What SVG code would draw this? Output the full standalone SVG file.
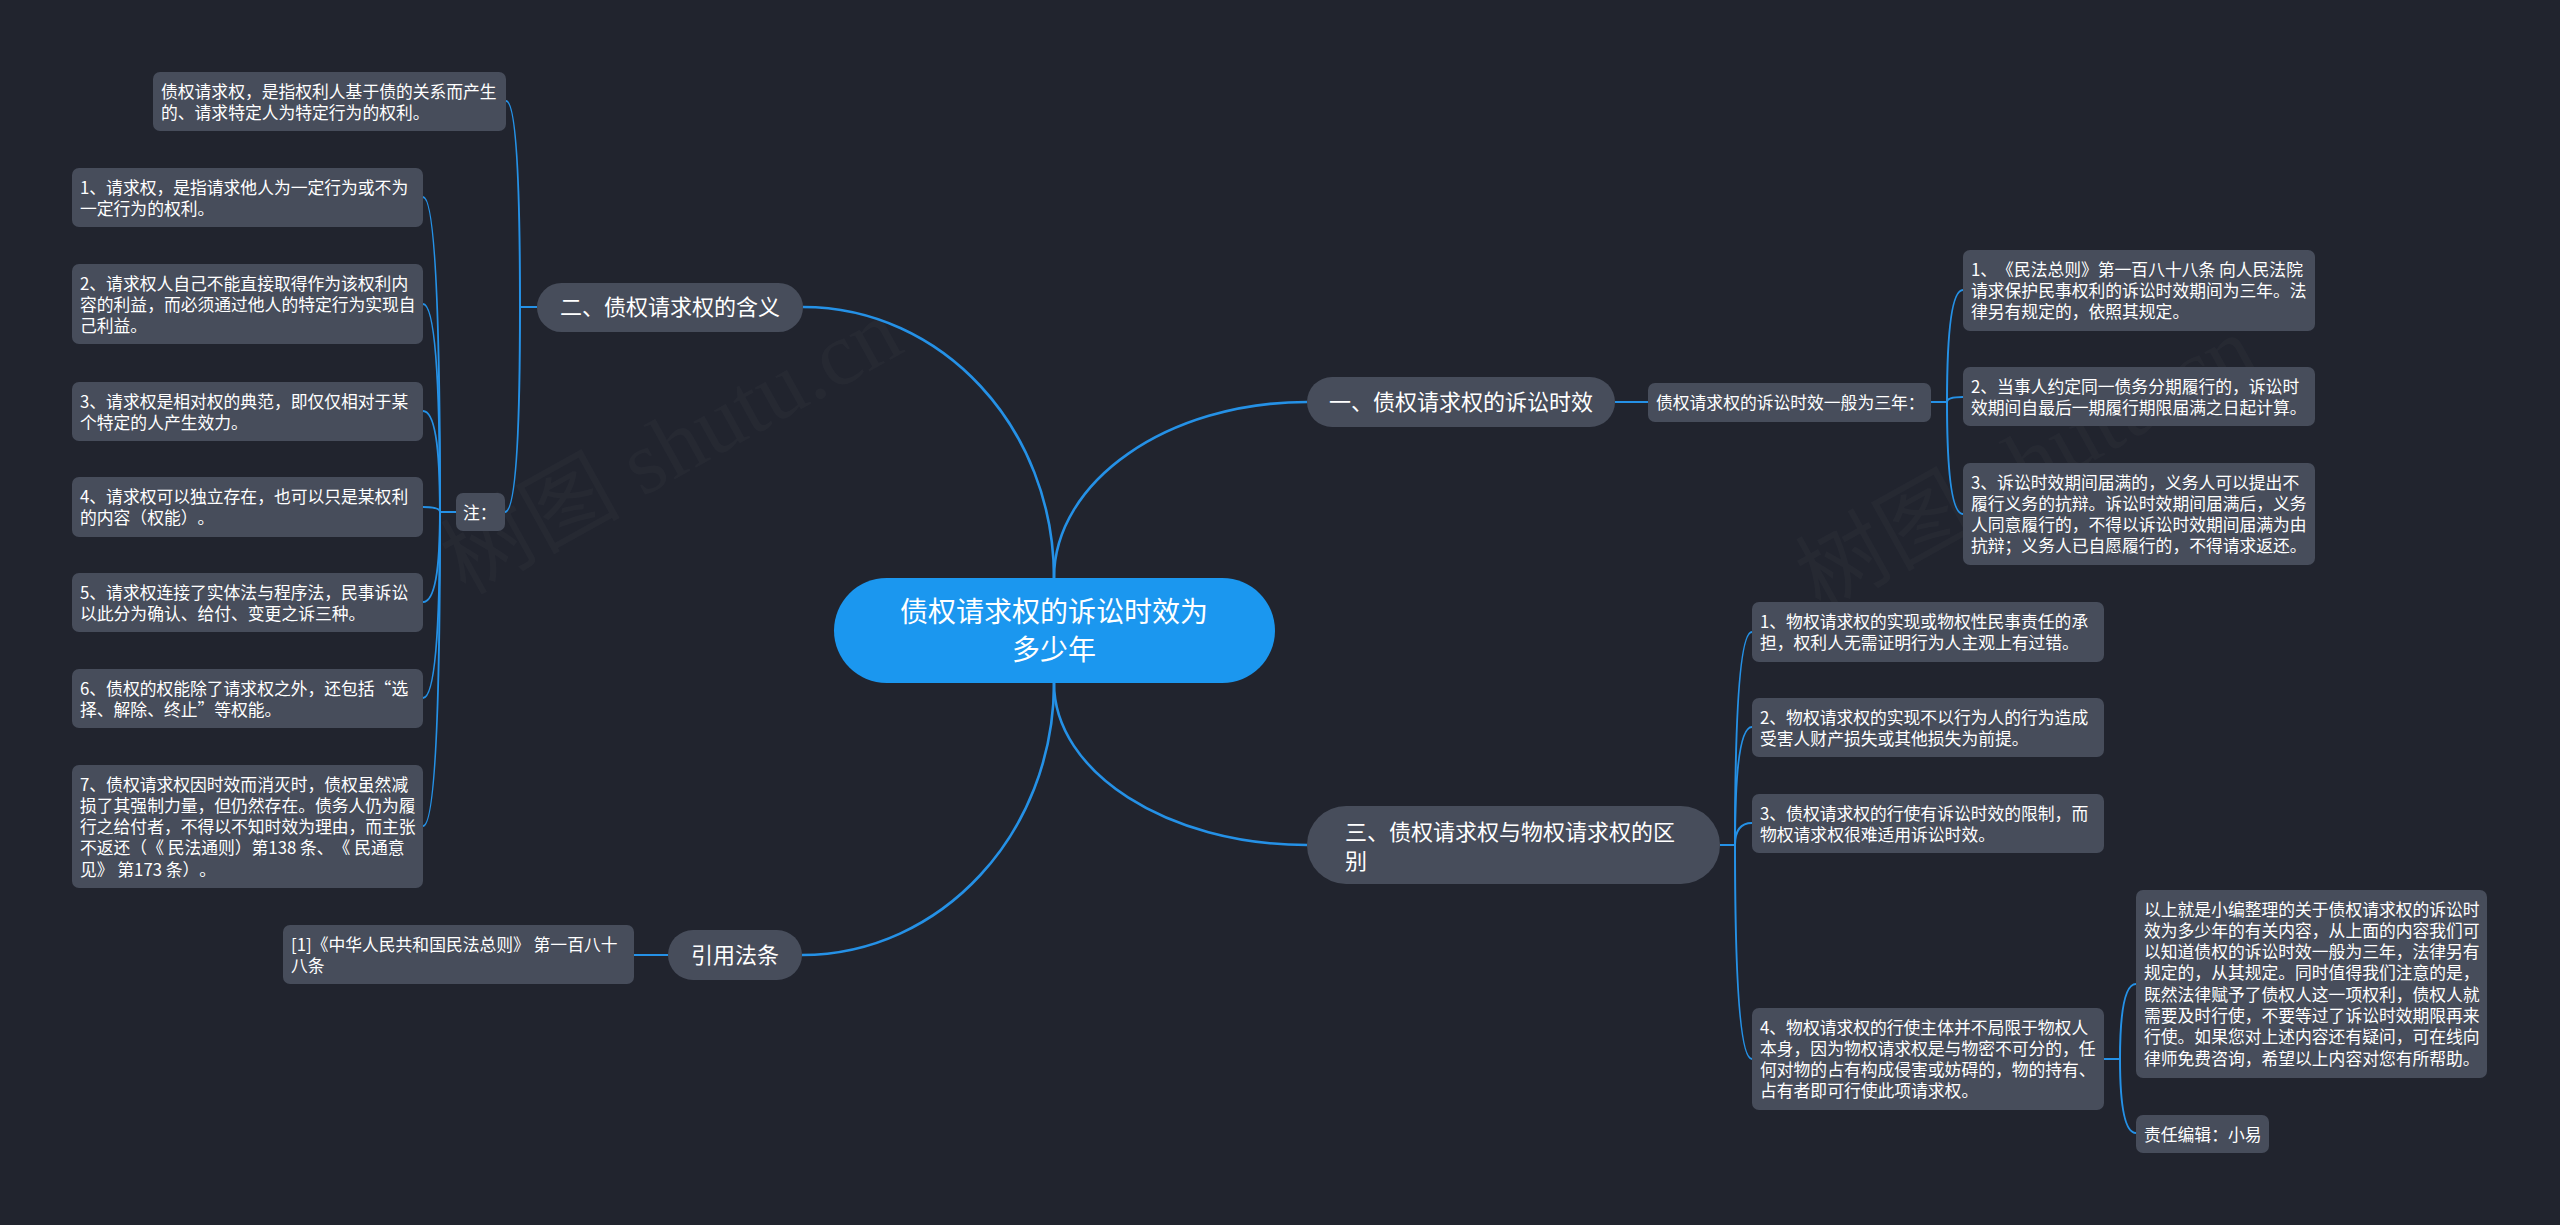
<svg xmlns="http://www.w3.org/2000/svg" width="2560" height="1225" viewBox="0 0 2560 1225">
<style>
.bg{fill:#21242e}
.wm{font-family:"Liberation Serif","Noto Sans CJK SC",serif;font-size:90px;fill:#ffffff;fill-opacity:0.025}
.n{fill:#474d5b}
.c{fill:#1b97ef}
text{text-spacing-trim:space-all;font-feature-settings:"chws" 0,"halt" 0}
.t{font-family:"Noto Sans CJK SC","Noto Sans",sans-serif;font-size:16.8px;fill:#ffffff}
.tm{font-family:"Noto Sans CJK SC","Noto Sans",sans-serif;font-size:22px;fill:#ffffff}
.tc{font-family:"Noto Sans CJK SC","Noto Sans",sans-serif;font-size:28px;fill:#ffffff}
.l{fill:none;stroke:#2591e6;stroke-width:2}
.lm{fill:none;stroke:#2591e6;stroke-width:2.6}
</style>
<rect class="bg" x="0" y="0" width="2560" height="1225"/>
<text class="wm" transform="translate(686 473) rotate(-29)" text-anchor="middle">树图 shutu.cn</text>
<text class="wm" transform="translate(2041 490) rotate(-29)" text-anchor="middle">树图 shutu.cn</text>
<g id="connectors">
<path class="lm" d="M1054 578 C1054 428 942 307 803 307"/>
<path class="lm" d="M1054 578 C1054 481 1168 402 1307 402"/>
<path class="lm" d="M1054 683 C1054 772 1167 845 1307 845"/>
<path class="lm" d="M1054 683 C1054 833 941 955 802 955"/>
<path class="l" d="M537 307 H520 Q520 101 506 101"/>
<path class="l" d="M537 307 H520 Q520 512 505 512"/>
<path class="l" d="M456 512 H440 Q440 197 423 197"/>
<path class="l" d="M456 512 H440 Q440 304 423 304"/>
<path class="l" d="M456 512 H440 Q440 411 423 411"/>
<path class="l" d="M456 512 H440 Q440 507 423 507"/>
<path class="l" d="M456 512 H440 Q440 602 423 602"/>
<path class="l" d="M456 512 H440 Q440 698 423 698"/>
<path class="l" d="M456 512 H440 Q440 826 423 826"/>
<path class="l" d="M668 955 H634"/>
<path class="l" d="M1615 402 H1648"/>
<path class="l" d="M1931 402 H1947 Q1947 290 1963 290"/>
<path class="l" d="M1931 402 H1947 Q1947 397 1963 397"/>
<path class="l" d="M1931 402 H1947 Q1947 514 1963 514"/>
<path class="l" d="M1720 845 H1735 Q1735 632 1752 632"/>
<path class="l" d="M1720 845 H1735 Q1735 727 1752 727"/>
<path class="l" d="M1720 845 H1735 Q1735 823 1752 823"/>
<path class="l" d="M1720 845 H1735 Q1735 1059 1752 1059"/>
<path class="l" d="M2104 1059 H2120 Q2120 984 2136 984"/>
<path class="l" d="M2104 1059 H2120 Q2120 1133 2136 1133"/>
</g>
<g id="root">
<rect class="c" x="834" y="578" width="441" height="105" rx="52.5"/>
<text class="tc" x="1054" y="622" text-anchor="middle">债权请求权的诉讼时效为</text>
<text class="tc" x="1054" y="660" text-anchor="middle">多少年</text>
</g>
<g id="b1">
<rect class="n" x="1307" y="377" width="308" height="50" rx="25"/>
<text class="tm" x="1461" y="409.5" text-anchor="middle">一、债权请求权的诉讼时效</text>
</g>
<g id="b2">
<rect class="n" x="537" y="283" width="266" height="49" rx="24.5"/>
<text class="tm" x="670" y="314.5" text-anchor="middle">二、债权请求权的含义</text>
</g>
<g id="b3">
<rect class="n" x="1307" y="806" width="413" height="78" rx="39"/>
<text class="tm" x="1345" y="840">三、债权请求权与物权请求权的区</text>
<text class="tm" x="1345" y="869">别</text>
</g>
<g id="b4">
<rect class="n" x="668" y="930" width="134" height="50" rx="25"/>
<text class="tm" x="735" y="962.5" text-anchor="middle">引用法条</text>
</g>
<g id="b2-def">
<rect class="n" x="153" y="72" width="353" height="59" rx="7"/>
<text class="t" x="161" y="97.5">债权请求权，是指权利人基于债的关系而产生</text>
<text class="t" x="161" y="118.8">的、请求特定人为特定行为的权利。</text>
</g>
<g id="b2-note">
<rect class="n" x="456" y="493" width="49" height="38" rx="7"/>
<text class="t" x="463" y="518.5">注：</text>
</g>
<g id="note1">
<rect class="n" x="72" y="168" width="351" height="59" rx="7"/>
<text class="t" x="80" y="193.5">1、请求权，是指请求他人为一定行为或不为</text>
<text class="t" x="80" y="214.8">一定行为的权利。</text>
</g>
<g id="note2">
<rect class="n" x="72" y="264" width="351" height="80" rx="7"/>
<text class="t" x="80" y="289.5">2、请求权人自己不能直接取得作为该权利内</text>
<text class="t" x="80" y="310.8">容的利益，而必须通过他人的特定行为实现自</text>
<text class="t" x="80" y="332.1">己利益。</text>
</g>
<g id="note3">
<rect class="n" x="72" y="382" width="351" height="59" rx="7"/>
<text class="t" x="80" y="407.5">3、请求权是相对权的典范，即仅仅相对于某</text>
<text class="t" x="80" y="428.8">个特定的人产生效力。</text>
</g>
<g id="note4">
<rect class="n" x="72" y="477" width="351" height="60" rx="7"/>
<text class="t" x="80" y="502.5">4、请求权可以独立存在，也可以只是某权利</text>
<text class="t" x="80" y="523.8">的内容（权能）。</text>
</g>
<g id="note5">
<rect class="n" x="72" y="573" width="351" height="59" rx="7"/>
<text class="t" x="80" y="598.5">5、请求权连接了实体法与程序法，民事诉讼</text>
<text class="t" x="80" y="619.8">以此分为确认、给付、变更之诉三种。</text>
</g>
<g id="note6">
<rect class="n" x="72" y="669" width="351" height="59" rx="7"/>
<text class="t" x="80" y="694.5">6、债权的权能除了请求权之外，还包括“选</text>
<text class="t" x="80" y="715.8">择、解除、终止”等权能。</text>
</g>
<g id="note7">
<rect class="n" x="72" y="765" width="351" height="123" rx="7"/>
<text class="t" x="80" y="790.5">7、债权请求权因时效而消灭时，债权虽然减</text>
<text class="t" x="80" y="811.8">损了其强制力量，但仍然存在。债务人仍为履</text>
<text class="t" x="80" y="833.1">行之给付者，不得以不知时效为理由，而主张</text>
<text class="t" x="80" y="854.4">不返还（《 民法通则）第138 条、《 民通意</text>
<text class="t" x="80" y="875.7">见》 第173 条）。</text>
</g>
<g id="b4-ref">
<rect class="n" x="283" y="925" width="351" height="59" rx="7"/>
<text class="t" x="291" y="950.5">[1]《中华人民共和国民法总则》 第一百八十</text>
<text class="t" x="291" y="971.8">八条</text>
</g>
<g id="b1-sub">
<rect class="n" x="1648" y="383" width="283" height="39" rx="7"/>
<text class="t" x="1656" y="408.5">债权请求权的诉讼时效一般为三年：</text>
</g>
<g id="b1-s1">
<rect class="n" x="1963" y="250" width="352" height="81" rx="7"/>
<text class="t" x="1971" y="275.5">1、《民法总则》第一百八十八条 向人民法院</text>
<text class="t" x="1971" y="296.8">请求保护民事权利的诉讼时效期间为三年。法</text>
<text class="t" x="1971" y="318.1">律另有规定的，依照其规定。</text>
</g>
<g id="b1-s2">
<rect class="n" x="1963" y="367" width="352" height="59" rx="7"/>
<text class="t" x="1971" y="392.5">2、当事人约定同一债务分期履行的，诉讼时</text>
<text class="t" x="1971" y="413.8">效期间自最后一期履行期限届满之日起计算。</text>
</g>
<g id="b1-s3">
<rect class="n" x="1963" y="463" width="352" height="102" rx="7"/>
<text class="t" x="1971" y="488.5">3、诉讼时效期间届满的，义务人可以提出不</text>
<text class="t" x="1971" y="509.8">履行义务的抗辩。诉讼时效期间届满后，义务</text>
<text class="t" x="1971" y="531.1">人同意履行的，不得以诉讼时效期间届满为由</text>
<text class="t" x="1971" y="552.4">抗辩；义务人已自愿履行的，不得请求返还。</text>
</g>
<g id="b3-s1">
<rect class="n" x="1752" y="602" width="352" height="60" rx="7"/>
<text class="t" x="1760" y="627.5">1、物权请求权的实现或物权性民事责任的承</text>
<text class="t" x="1760" y="648.8">担，权利人无需证明行为人主观上有过错。</text>
</g>
<g id="b3-s2">
<rect class="n" x="1752" y="698" width="352" height="59" rx="7"/>
<text class="t" x="1760" y="723.5">2、物权请求权的实现不以行为人的行为造成</text>
<text class="t" x="1760" y="744.8">受害人财产损失或其他损失为前提。</text>
</g>
<g id="b3-s3">
<rect class="n" x="1752" y="794" width="352" height="59" rx="7"/>
<text class="t" x="1760" y="819.5">3、债权请求权的行使有诉讼时效的限制，而</text>
<text class="t" x="1760" y="840.8">物权请求权很难适用诉讼时效。</text>
</g>
<g id="b3-s4">
<rect class="n" x="1752" y="1008" width="352" height="102" rx="7"/>
<text class="t" x="1760" y="1033.5">4、物权请求权的行使主体并不局限于物权人</text>
<text class="t" x="1760" y="1054.8">本身，因为物权请求权是与物密不可分的，任</text>
<text class="t" x="1760" y="1076.1">何对物的占有构成侵害或妨碍的，物的持有、</text>
<text class="t" x="1760" y="1097.4">占有者即可行使此项请求权。</text>
</g>
<g id="summary">
<rect class="n" x="2136" y="890" width="351" height="188" rx="7"/>
<text class="t" x="2144" y="915.5">以上就是小编整理的关于债权请求权的诉讼时</text>
<text class="t" x="2144" y="936.8">效为多少年的有关内容，从上面的内容我们可</text>
<text class="t" x="2144" y="958.1">以知道债权的诉讼时效一般为三年，法律另有</text>
<text class="t" x="2144" y="979.4">规定的，从其规定。同时值得我们注意的是，</text>
<text class="t" x="2144" y="1000.7">既然法律赋予了债权人这一项权利，债权人就</text>
<text class="t" x="2144" y="1022">需要及时行使，不要等过了诉讼时效期限再来</text>
<text class="t" x="2144" y="1043.3">行使。如果您对上述内容还有疑问，可在线向</text>
<text class="t" x="2144" y="1064.6">律师免费咨询，希望以上内容对您有所帮助。</text>
</g>
<g id="editor">
<rect class="n" x="2136" y="1115" width="133" height="38" rx="7"/>
<text class="t" x="2144" y="1140.5">责任编辑：小易</text>
</g>
</svg>
